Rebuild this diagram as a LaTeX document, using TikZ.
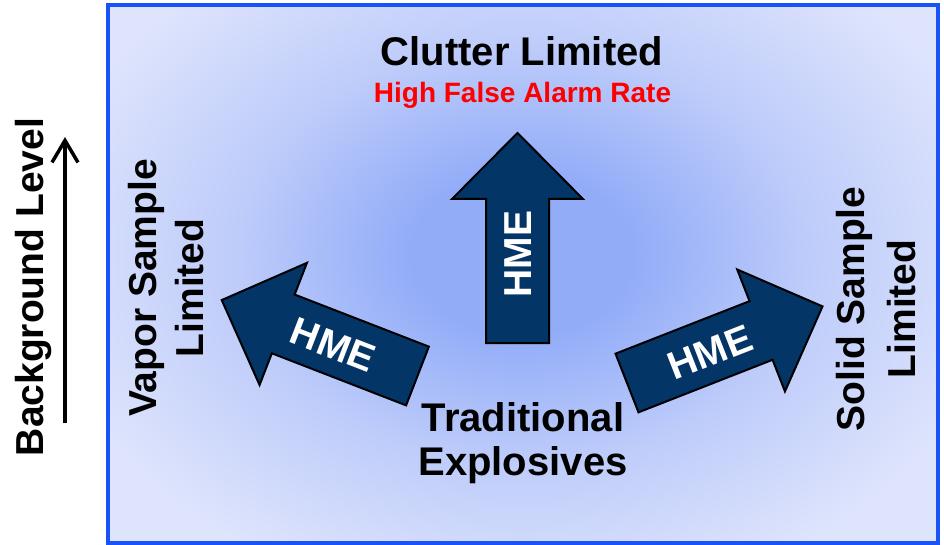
\documentclass[tikz,border=0pt]{standalone}
\usepackage{fontspec}
\setmainfont{Liberation Sans}
\usetikzlibrary{arrows.meta}
\definecolor{bgcenter}{RGB}{146,172,248}
\definecolor{bgmid}{RGB}{190,204,250}
\definecolor{bgedge}{RGB}{222,228,252}
\definecolor{frameblue}{RGB}{24,82,248}
\definecolor{hmefill}{RGB}{4,53,103}
\definecolor{alarmred}{RGB}{255,0,0}
\pgfdeclareradialshading{bgglow}{\pgfpoint{0bp}{0bp}}{color(0bp)=(bgcenter); color(10bp)=(bgcenter); color(26bp)=(bgmid); color(44bp)=(bgedge); color(50bp)=(bgedge)}
\begin{document}
\begin{tikzpicture}[x=1pt,y=1pt,
  hmearrow/.style={fill=hmefill, draw=black, line width=2pt, line join=miter},
  hmelabel/.style={text=white, font=\fontsize{39}{44}\selectfont\bfseries, inner sep=0pt},
  biglabel/.style={align=center, inner sep=0pt},
]
\useasboundingbox (0,0) rectangle (944,544);
\begin{scope}
  \clip (108,1) rectangle (937.5,538.5);
  \fill[bgedge] (108,1) rectangle (937.5,538.5);
  \begin{scope}[shift={(522,290)}, xscale=11, yscale=8]
    \pgflowlevelsynccm
    \pgftext{\pgfuseshading{bgglow}}
  \end{scope}
\end{scope}
\draw[frameblue, line width=4pt] (108,1) rectangle (937.5,538.5);

% HME arrows
\begin{scope}[shift={(517.5,201)}, rotate=90]
  \draw[hmearrow] (0,-31.5) -- (144,-31.5) -- (144,-65.5) -- (210,0) -- (144,65.5) -- (144,31.5) -- (0,31.5) -- cycle;
\end{scope}
\begin{scope}[shift={(417.5,168)}, rotate=158.8]
  \draw[hmearrow] (0,-31.5) -- (144,-31.5) -- (144,-65.5) -- (210,0) -- (144,65.5) -- (144,31.5) -- (0,31.5) -- cycle;
\end{scope}
\begin{scope}[shift={(627,161)}, rotate=21.4]
  \draw[hmearrow] (0,-31.5) -- (144,-31.5) -- (144,-65.5) -- (210,0) -- (144,65.5) -- (144,31.5) -- (0,31.5) -- cycle;
\end{scope}
\node[hmelabel, rotate=90] (hmeup) at (518,290) {HME};
\node[hmelabel, rotate=-21.2] (hmeleft) at (333,199) {HME};
\node[hmelabel, rotate=21.4] (hmeright) at (710,192) {HME};

% labels
\node[font=\fontsize{40}{48}\selectfont\bfseries, anchor=base, inner sep=0pt] (clutter) at (522,478) {Clutter Limited};
\node[text=alarmred, font=\fontsize{28}{32}\selectfont\bfseries, anchor=base, inner sep=0pt] (falsealarm) at (522.5,441) {High False Alarm Rate};
\node[biglabel, font=\fontsize{40}{44}\selectfont\bfseries] (trad) at (523,101) {Traditional\\Explosives};
\node[biglabel, font=\fontsize{39}{47}\selectfont\bfseries, rotate=90] (vapor) at (166,256) {Vapor Sample\\Limited};
\node[biglabel, font=\fontsize{39}{51}\selectfont\bfseries, rotate=90] (solid) at (876,235) {Solid Sample\\Limited};

% background level axis
\node[font=\fontsize{39}{44}\selectfont\bfseries, rotate=90, inner sep=0pt] (bglevel) at (34,257) {Background Level};
\coordinate (bgtail) at (65,121);
\coordinate (bghead) at (65,407);
\draw[line width=3.5pt, -{Straight Barb[length=22pt,width=26pt]}] (bgtail) -- (bghead);
\end{tikzpicture}
\end{document}
